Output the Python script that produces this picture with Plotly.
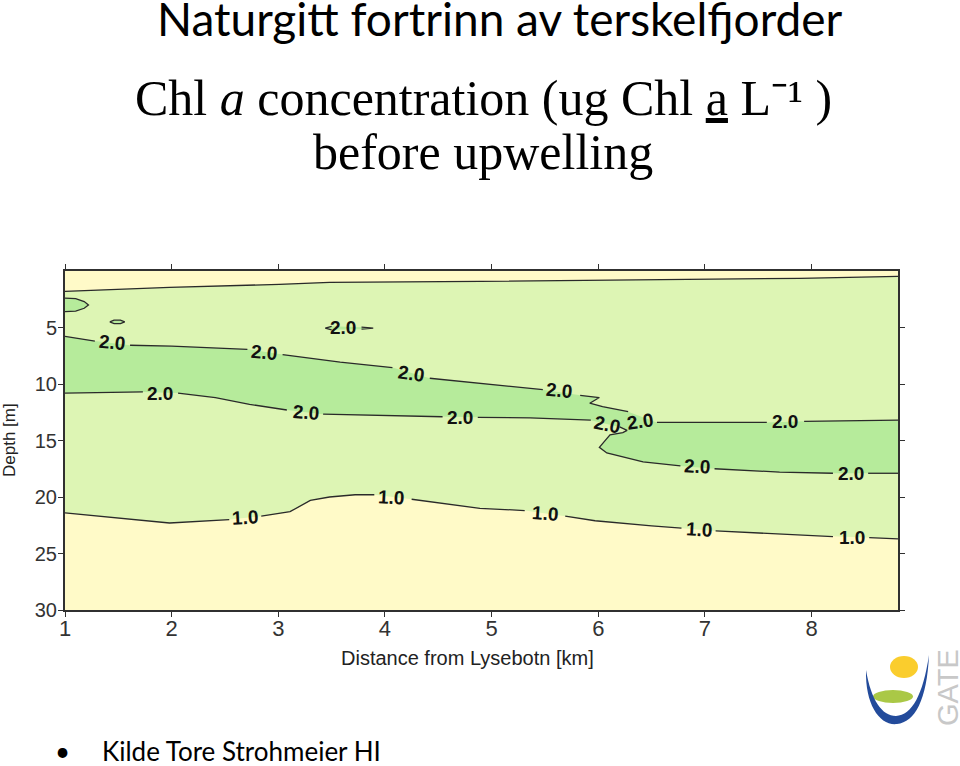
import plotly.graph_objects as go

# ---------------- data ----------------
X_MIN, X_MAX = 1.0, 8.81          # distance from Lysebotn [km]
D_MIN, D_MAX = 0.0, 30.0          # depth [m]
X_TICKS = [1, 2, 3, 4, 5, 6, 7, 8]
D_TICKS = [5, 10, 15, 20, 25, 30]

# 1.0 isoline near surface
TOP_X = [1.0, 1.52, 1.98, 3.01, 3.48, 4.89, 6.01, 6.95, 7.89, 8.81]
TOP_D = [1.8, 1.6, 1.45, 1.18, 1.0, 0.92, 0.83, 0.74, 0.65, 0.48]

# 2.0 isoline, upper edge of the >2.0 band (None = gap for a label)
UP_X = [1.0, 1.28, None, 1.61, 2.0, 2.71, None, 3.04, 3.58, 4.07, None, 4.42, 4.89,
        5.48, None, 5.83, 6.01, 5.92, 6.04, 6.28, None, 6.55, 7.14, 7.58, None, 7.93, 8.81]
UP_D = [5.78, 6.2, None, 6.57, 6.65, 6.93, None, 7.4, 8.07, 8.55, None, 9.49, 9.93,
        10.5, None, 11.0, 11.2, 11.7, 12.0, 12.45, None, 13.4, 13.4, 13.4, None, 13.3, 13.2]

# 2.0 isoline, lower edge of the >2.0 band
LOW_X = [1.0, 1.73, None, 2.06, 2.41, 2.73, 3.08, None, 3.42, 4.0, 4.54, None, 4.87, 5.36,
         5.93, None, 6.2, 6.27, 6.23, 6.11, 6.01, 6.08, 6.42, 6.77, None, 7.09, 7.70, 8.2,
         None, 8.53, 8.81]
LOW_D = [10.8, 10.7, None, 10.8, 11.2, 11.8, 12.3, None, 12.67, 12.8, 12.9, None, 12.95, 13.0,
         13.2, None, 13.8, 14.1, 14.3, 14.5, 15.6, 16.1, 16.9, 17.25, None, 17.5, 17.8, 17.9,
         None, 17.9, 17.9]

# 1.0 isoline at depth
BOT_X = [1.0, 1.61, 1.98, 2.54, None, 2.84, 3.11, 3.30, 3.48, 3.72, 3.90, None, 4.25, 4.89,
         5.31, None, 5.69, 5.97, 6.50, 6.78, None, 7.10, 7.70, 8.20, None, 8.54, 8.81]
BOT_D = [21.4, 22.0, 22.3, 22.0, None, 21.7, 21.3, 20.3, 20.0, 19.8, 19.8, None, 20.2, 21.0,
         21.2, None, 21.7, 22.1, 22.55, 22.75, None, 23.0, 23.3, 23.5, None, 23.6, 23.7]

# small closed 2.0 patches
BLOB1_X = [1.0, 1.1, 1.18, 1.22, 1.18, 1.1, 1.0]
BLOB1_D = [2.4, 2.45, 2.7, 3.0, 3.3, 3.55, 3.6]
BLOB2_X = [1.42, 1.46, 1.52, 1.56, 1.52, 1.46, 1.42]
BLOB2_D = [4.5, 4.35, 4.35, 4.5, 4.65, 4.65, 4.5]
BLOB3_X = [3.50, 3.44, 3.50, None, 3.78, 3.89, 3.78]
BLOB3_D = [4.90, 5.05, 5.20, None, 5.15, 5.05, 4.97]

# contour labels
LABEL_X = [1.44, 2.87, 4.24, 5.63, 1.89, 3.26, 4.70, 6.08, 6.39, 7.75, 3.61, 6.93, 8.37,
           2.69, 4.06, 5.50, 6.94, 8.38]
LABEL_D = [6.3, 7.2, 9.05, 10.6, 10.8, 12.5, 13.0, 13.6, 13.3, 13.3, 5.0, 17.3, 17.9,
           21.85, 20.0, 21.5, 22.9, 23.6]
LABEL_TEXT = ["2.0"] * 13 + ["1.0"] * 5
LABEL_ANGLE = [5, 5, 8, 5, 0, 4, 0, 12, -8, 0, 0, 3, 0, -3, 3, 4, 3, 0]

# ---------------- styling ----------------
YELLOW = "rgb(255,250,200)"
LIGHT = "rgb(221,245,180)"
MID = "rgb(182,235,155)"
LINE = "#2a2a2a"
AX = "#303030"

# plot area in page pixels
L, R, T, B = 65, 62, 271, 156
W, H = 960, 766
PW, PH = W - L - R, H - T - B


def px(xp):
    return (xp - L) / PW


def py(yp):
    return (H - B - yp) / PH


def solid(xs, ds):
    pts = [(x, d) for x, d in zip(xs, ds) if x is not None]
    return [p[0] for p in pts], [p[1] for p in pts]


fig = go.Figure()


def fill(xs, ds, color):
    fig.add_trace(go.Scatter(x=xs, y=ds, mode="lines", fill="toself", fillcolor=color,
                             line=dict(width=0), hoverinfo="skip", showlegend=False))


def line(xs, ds):
    fig.add_trace(go.Scatter(x=xs, y=ds, mode="lines", connectgaps=False,
                             line=dict(color=LINE, width=1.3), hoverinfo="skip",
                             showlegend=False))


tx, td = solid(TOP_X, TOP_D)
fill([X_MIN] + tx + [X_MAX], [D_MIN] + td + [D_MIN], YELLOW)

ux, ud = solid(UP_X, UP_D)
lx, ld = solid(LOW_X, LOW_D)
fill(ux + lx[::-1], ud + ld[::-1], MID)

for bx_, bd_ in [(BLOB1_X, BLOB1_D), (BLOB2_X, BLOB2_D), (BLOB3_X, BLOB3_D)]:
    sx, sd = solid(bx_, bd_)
    fill(sx, sd, MID)

bx, bd = solid(BOT_X, BOT_D)
fill([X_MIN] + bx + [X_MAX], [D_MAX] + bd + [D_MAX], YELLOW)

for xs, ds in [(TOP_X, TOP_D), (UP_X, UP_D), (LOW_X, LOW_D), (BOT_X, BOT_D),
               (BLOB1_X, BLOB1_D), (BLOB2_X, BLOB2_D), (BLOB3_X, BLOB3_D)]:
    line(xs, ds)

annotations = []
for x, d, t, a in zip(LABEL_X, LABEL_D, LABEL_TEXT, LABEL_ANGLE):
    annotations.append(dict(x=x, y=d, xref="x", yref="y", text="<b>" + t + "</b>",
                            showarrow=False, textangle=a,
                            font=dict(family="Liberation Sans, Arial", size=19, color="#111")))

# slide texts
annotations += [
    dict(x=px(500), y=py(18), xref="paper", yref="paper", xanchor="center", yanchor="middle",
         text="Naturgitt fortrinn av terskelfjorder", showarrow=False,
         font=dict(family="Lato, Carlito, Calibri, sans-serif", size=46, color="black")),
    dict(x=px(483), y=py(98), xref="paper", yref="paper", xanchor="center", yanchor="middle",
         text="Chl <i>a</i> concentration (ug Chl <u>a</u> L\u207b\u00b9 )", showarrow=False,
         font=dict(family="Liberation Serif, Times New Roman, serif", size=50, color="black")),
    dict(x=px(483), y=py(152), xref="paper", yref="paper", xanchor="center", yanchor="middle",
         text="before upwelling", showarrow=False,
         font=dict(family="Liberation Serif, Times New Roman, serif", size=50, color="black")),
    dict(x=px(9), y=py(440), xref="paper", yref="paper", xanchor="center", yanchor="middle",
         text="Depth [m]", textangle=-90, showarrow=False,
         font=dict(family="Liberation Sans, Arial", size=17, color="#222")),
    dict(x=px(467), y=py(658), xref="paper", yref="paper", xanchor="center", yanchor="middle",
         text="Distance from Lysebotn [km]", showarrow=False,
         font=dict(family="Liberation Sans, Arial", size=20, color="#222")),
    dict(x=px(62), y=py(751), xref="paper", yref="paper", xanchor="center", yanchor="middle",
         text="•", showarrow=False,
         font=dict(family="Lato, sans-serif", size=26, color="black")),
    dict(x=px(100), y=py(751), xref="paper", yref="paper", xanchor="left", yanchor="middle",
         text="Kilde Tore Strohmeier HI", showarrow=False,
         font=dict(family="Lato, Carlito, Calibri, sans-serif", size=26, color="black")),
    dict(x=px(948), y=py(688), xref="paper", yref="paper", xanchor="center", yanchor="middle",
         text="GATE", textangle=-90, showarrow=False,
         font=dict(family="Liberation Sans, Arial", size=29, color="rgb(200,200,200)")),
]


def pth(points):
    s = ""
    for cmd, pts in points:
        s += cmd + " " + " ".join("%.4f,%.4f" % (px(a), py(b)) for a, b in pts) + " "
    return s + "Z"


shapes = [
    dict(type="circle", xref="paper", yref="paper", x0=px(890), x1=px(918), y0=py(656), y1=py(678),
         fillcolor="rgb(250,205,45)", line=dict(width=0), layer="above"),
    dict(type="circle", xref="paper", yref="paper", x0=px(873), x1=px(913), y0=py(690), y1=py(703),
         fillcolor="rgb(170,200,70)", line=dict(width=0), layer="above"),
    dict(type="path", xref="paper", yref="paper", layer="above",
         path=pth([("M", [(866, 670)]),
                   ("C", [(865, 705), (880, 726), (897, 724)]),
                   ("C", [(915, 722), (927, 700), (929, 655)]),
                   ("C", [(923, 695), (912, 715), (896, 716)]),
                   ("C", [(882, 716), (871, 700), (866, 670)])]),
         fillcolor="rgb(35,75,155)", line=dict(width=0)),
]

fig.update_layout(
    width=W, height=H,
    margin=dict(l=L, r=R, t=T, b=B, pad=0),
    paper_bgcolor="white", plot_bgcolor=LIGHT,
    showlegend=False, hovermode=False,
    annotations=annotations, shapes=shapes,
    xaxis=dict(range=[X_MIN, X_MAX], tickvals=X_TICKS, ticks="outside", ticklen=5,
               tickcolor=AX, showline=True, linecolor=AX, linewidth=2, mirror="ticks",
               showgrid=False, zeroline=False, ticklabelstandoff=-7,
               tickfont=dict(family="Liberation Sans, Arial", size=22, color="#333")),
    yaxis=dict(range=[D_MAX, D_MIN], tickvals=D_TICKS, ticks="outside", ticklen=5,
               tickcolor=AX, showline=True, linecolor=AX, linewidth=2, mirror="ticks",
               showgrid=False, zeroline=False, ticklabelstandoff=-3,
               tickfont=dict(family="Liberation Sans, Arial", size=20, color="#333")),
)

fig.write_html("out.html")
